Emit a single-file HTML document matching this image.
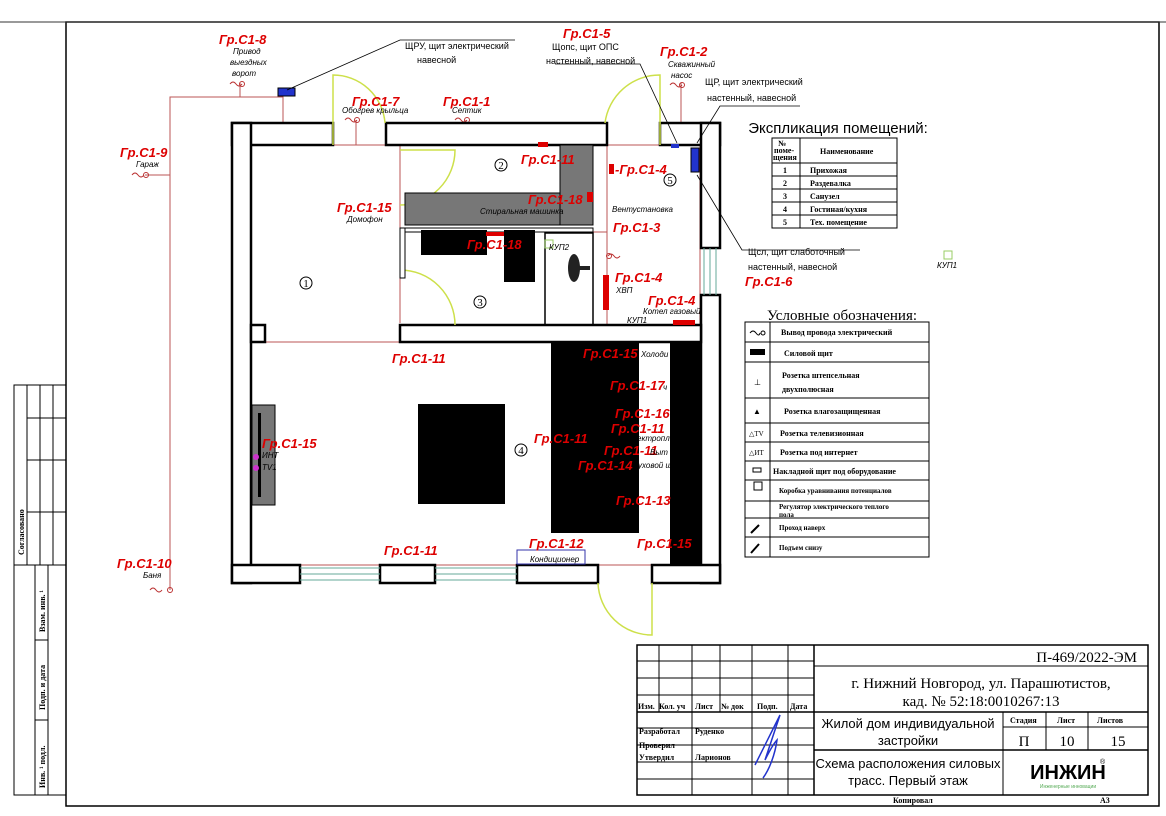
<!DOCTYPE html>
<html><head><meta charset="utf-8"><style>
html,body{margin:0;padding:0;background:#fff}
svg{display:block}
.r{fill:#d00;font-family:"Liberation Sans",sans-serif;font-style:italic;font-weight:bold;font-size:13px}
.s{font-family:"Liberation Sans",sans-serif;font-size:9px;fill:#000}
.si{font-family:"Liberation Sans",sans-serif;font-size:8px;font-style:italic;fill:#000}
.t{font-family:"Liberation Serif",serif;font-size:8px;font-weight:bold;fill:#000}
.w{fill:#fff;stroke:#000;stroke-width:2.5}
.rl{stroke:#b55;stroke-width:1;fill:none}
.d{stroke:#cde04a;stroke-width:1.5;fill:none}
.g{stroke:#000;stroke-width:1;fill:none}
</style></head><body>
<svg width="1166" height="816" viewBox="0 0 1166 816" xmlns="http://www.w3.org/2000/svg">
<rect x="66" y="22" width="1093" height="784" fill="none" stroke="#000" stroke-width="1.5"/>
<line x1="0" y1="22" x2="1166" y2="22" stroke="#333" stroke-width="1"/>
<g class="g">
<rect x="14" y="385" width="52" height="410"/>
<line x1="14" y1="565" x2="66" y2="565"/>
<line x1="27" y1="385" x2="27" y2="565"/><line x1="40" y1="385" x2="40" y2="565"/><line x1="53" y1="385" x2="53" y2="565"/>
<line x1="27" y1="418" x2="66" y2="418"/><line x1="27" y1="460" x2="66" y2="460"/><line x1="27" y1="512" x2="66" y2="512"/>
<line x1="35" y1="565" x2="35" y2="795"/><line x1="48" y1="565" x2="48" y2="795"/>
<line x1="35" y1="640" x2="48" y2="640"/><line x1="35" y1="720" x2="48" y2="720"/>
</g>
<text class="t" transform="translate(24,555) rotate(-90)">Согласовано</text>
<text class="t" transform="translate(45,632) rotate(-90)">Взам. инв. ¹</text>
<text class="t" transform="translate(45,710) rotate(-90)">Подп. и дата</text>
<text class="t" transform="translate(45,788) rotate(-90)">Инв. ¹ подл.</text>

<g class="rl">
<polyline points="170,590 170,97 283,97 283,145 700,145 700,325"/>
<line x1="170" y1="175" x2="145" y2="175"/>
<line x1="240" y1="97" x2="240" y2="83"/>
<line x1="356" y1="145" x2="356" y2="120"/>
<line x1="466" y1="145" x2="466" y2="120"/>
<line x1="681" y1="145" x2="681" y2="83"/>
<line x1="251" y1="342" x2="701" y2="342"/>
<line x1="251" y1="342" x2="251" y2="565"/>
<line x1="251" y1="565" x2="701" y2="565"/>
<line x1="701" y1="342" x2="701" y2="565"/>
<line x1="400" y1="145" x2="400" y2="323"/>
<line x1="607" y1="145" x2="607" y2="325"/>
<line x1="607" y1="325" x2="701" y2="325"/>
<line x1="545" y1="232" x2="607" y2="232"/>
<line x1="598" y1="342" x2="598" y2="450"/>
</g>
<g stroke="#b33" fill="none" stroke-width="1">
<path d="M230,84 q3,-4 6,0 t6,0"/><circle cx="242" cy="84" r="2.5"/>
<path d="M345,120 q3,-4 6,0 t6,0"/><circle cx="357" cy="120" r="2.5"/>
<path d="M455,120 q3,-4 6,0 t6,0"/><circle cx="467" cy="120" r="2.5"/>
<path d="M670,85 q3,-4 6,0 t6,0"/><circle cx="682" cy="85" r="2.5"/>
<path d="M132,175 q3,-4 6,0 t6,0"/><circle cx="146" cy="175" r="2.5"/>
<path d="M150,590 q3,-4 6,0 t6,0"/><circle cx="170" cy="590" r="2.5"/>
<path d="M608,256 q3,-4 6,0 t6,0"/><circle cx="609" cy="256" r="2.5"/>
</g>

<rect class="w" x="232" y="123" width="101" height="22"/>
<rect class="w" x="386" y="123" width="221" height="22"/>
<rect class="w" x="660" y="123" width="60" height="22"/>
<rect class="w" x="232" y="123" width="19" height="460"/>
<rect class="w" x="701" y="123" width="19" height="125"/>
<rect class="w" x="701" y="295" width="19" height="288"/>
<rect class="w" x="400" y="325" width="301" height="17"/>
<rect class="w" x="251" y="325" width="14" height="17"/>
<rect class="w" x="232" y="565" width="68" height="18"/>
<rect class="w" x="380" y="565" width="55" height="18"/>
<rect class="w" x="517" y="565" width="81" height="18"/>
<rect class="w" x="652" y="565" width="68" height="18"/>
<g stroke="#6a9" stroke-width="1">
<line x1="300" y1="568" x2="380" y2="568"/><line x1="300" y1="574" x2="380" y2="574"/><line x1="300" y1="580" x2="380" y2="580"/>
<line x1="435" y1="568" x2="517" y2="568"/><line x1="435" y1="574" x2="517" y2="574"/><line x1="435" y1="580" x2="517" y2="580"/>
<line x1="704" y1="248" x2="704" y2="295"/><line x1="710" y1="248" x2="710" y2="295"/><line x1="716" y1="248" x2="716" y2="295"/>
</g>
<path class="d" d="M333,145 L333,75 A52,52 0 0 1 385,123"/>
<path class="d" d="M660,145 L660,75 A55,55 0 0 0 605,123"/>
<path class="d" d="M400,150 L455,150 A55,55 0 0 1 400,205"/>
<path class="d" d="M400,270 A55,55 0 0 1 455,325"/>
<path class="d" d="M652,583 L652,635 A54,54 0 0 1 598,583"/>

<rect x="405" y="193" width="188" height="32" fill="#777" stroke="#000"/>
<rect x="560" y="145" width="33" height="80" fill="#777" stroke="#000"/>
<rect x="400" y="228" width="5" height="50" fill="#fff" stroke="#000"/>
<rect x="405" y="228" width="188" height="4" fill="#fff" stroke="#000"/>
<rect x="545" y="233" width="48" height="92" fill="none" stroke="#000" stroke-width="1.5"/>
<rect x="421" y="230" width="66" height="25" fill="#000"/>
<rect x="504" y="230" width="31" height="52" fill="#000"/>
<ellipse cx="574" cy="268" rx="6" ry="14" fill="#222"/>
<rect x="574" y="266" width="16" height="4" fill="#222"/>
<rect x="418" y="404" width="87" height="100" fill="#000"/>
<rect x="551" y="342" width="88" height="191" fill="#000"/>
<rect x="670" y="342" width="31" height="223" fill="#000"/>
<rect x="252" y="405" width="23" height="100" fill="#777" stroke="#000"/>
<rect x="258" y="413" width="3" height="84" fill="#000"/>
<circle cx="256" cy="457" r="3" fill="#c3c"/><circle cx="256" cy="468" r="3" fill="#c3c"/>
<rect x="517" y="550" width="68" height="14" fill="none" stroke="#33a"/>
<rect x="944" y="251" width="8" height="8" fill="none" stroke="#9c6"/>
<rect x="545" y="240" width="8" height="8" fill="none" stroke="#9c6"/>
<rect x="278" y="88" width="17" height="8" fill="#23c" stroke="#000"/>
<rect x="691" y="148" width="8" height="24" fill="#23c" stroke="#000"/>
<rect x="671" y="144" width="8" height="4" fill="#23c"/>
<g fill="#d00">
<rect x="609" y="164" width="5" height="10"/><rect x="587" y="192" width="6" height="10"/>
<rect x="486" y="232" width="18" height="4"/><rect x="603" y="275" width="6" height="35"/>
<rect x="673" y="320" width="22" height="5"/><rect x="538" y="142" width="10" height="5"/>
</g>
<g stroke="#000" stroke-width="0.8" fill="none">
<polyline points="287,90 400,40 515,40"/>
<polyline points="555,64 640,64 677,143"/>
<polyline points="697,143 720,106 800,106"/>
<polyline points="697,175 742,250 860,250"/>
</g>
<g font-family="Liberation Serif,serif" font-size="11" text-anchor="middle">
<circle cx="306" cy="283" r="6" fill="none" stroke="#000"/><text x="306" y="287">1</text>
<circle cx="501" cy="165" r="6" fill="none" stroke="#000"/><text x="501" y="169">2</text>
<circle cx="480" cy="302" r="6" fill="none" stroke="#000"/><text x="480" y="306">3</text>
<circle cx="521" cy="450" r="6" fill="none" stroke="#000"/><text x="521" y="454">4</text>
<circle cx="670" cy="180" r="6" fill="none" stroke="#000"/><text x="670" y="184">5</text>
</g>

<text class="r" x="219" y="44">Гр.С1-8</text>
<text class="r" x="563" y="38">Гр.С1-5</text>
<text class="r" x="660" y="56">Гр.С1-2</text>
<text class="r" x="352" y="106">Гр.С1-7</text>
<text class="r" x="443" y="106">Гр.С1-1</text>
<text class="r" x="120" y="157">Гр.С1-9</text>
<text class="r" x="521" y="164">Гр.С1-11</text>
<text class="r" x="615" y="174">-Гр.С1-4</text>
<text class="r" x="528" y="204">Гр.С1-18</text>
<text class="r" x="337" y="212">Гр.С1-15</text>
<text class="r" x="613" y="232">Гр.С1-3</text>
<text class="r" x="467" y="249">Гр.С1-18</text>
<text class="r" x="615" y="282">Гр.С1-4</text>
<text class="r" x="648" y="305">Гр.С1-4</text>
<text class="r" x="745" y="286">Гр.С1-6</text>
<text class="r" x="392" y="363">Гр.С1-11</text>
<text class="r" x="583" y="358">Гр.С1-15</text>
<text class="r" x="610" y="390">Гр.С1-17</text>
<text class="r" x="615" y="418">Гр.С1-16</text>
<text class="r" x="611" y="433">Гр.С1-11</text>
<text class="r" x="534" y="443">Гр.С1-11</text>
<text class="r" x="604" y="455">Гр.С1-11</text>
<text class="r" x="578" y="470">Гр.С1-14</text>
<text class="r" x="262" y="448">Гр.С1-15</text>
<text class="r" x="616" y="505">Гр.С1-13</text>
<text class="r" x="384" y="555">Гр.С1-11</text>
<text class="r" x="529" y="548">Гр.С1-12</text>
<text class="r" x="637" y="548">Гр.С1-15</text>
<text class="r" x="117" y="568">Гр.С1-10</text>
<text class="si" x="233" y="54">Привод</text><text class="si" x="230" y="65">выездных</text><text class="si" x="232" y="76">ворот</text>
<text class="s" x="405" y="49">ЩРУ, щит электрический</text><text class="s" x="417" y="63">навесной</text>
<text class="s" x="552" y="50">Щопс, щит ОПС</text><text class="s" x="546" y="64">настенный, навесной</text>
<text class="si" x="668" y="67">Скважинный</text><text class="si" x="671" y="78">насос</text>
<text class="s" x="705" y="85">ЩР, щит электрический</text><text class="s" x="707" y="101">настенный, навесной</text>
<text class="si" x="342" y="113">Обогрев крыльца</text><text class="si" x="452" y="113">Септик</text>
<text class="si" x="136" y="167">Гараж</text>
<text class="si" x="480" y="214">Стиральная машинка</text>
<text class="si" x="347" y="222">Домофон</text>
<text class="si" x="612" y="212">Вентустановка</text>
<text class="si" x="549" y="250">КУП2</text>
<text class="si" x="616" y="293">ХВП</text>
<text class="si" x="643" y="314">Котел газовый</text>
<text class="si" x="627" y="323">КУП1</text>
<text class="s" x="748" y="255">Щсл, щит слаботочный</text><text class="s" x="748" y="270">настенный, навесной</text>
<text class="si" x="937" y="268">КУП1</text>
<text class="si" x="641" y="357">Холоди</text>
<text class="si" x="663" y="390">ч</text>
<text class="si" x="637" y="441">ектропл</text><text class="si" x="650" y="455">Выт</text><text class="si" x="638" y="468">уховой ш</text>
<text class="si" x="262" y="458">ИНТ</text><text class="si" x="262" y="470">TV1</text>
<text class="si" x="530" y="562">Кондиционер</text>
<text class="si" x="143" y="578">Баня</text>

<text x="838" y="133" text-anchor="middle" font-family="Liberation Sans,sans-serif" font-size="15">Экспликация помещений:</text>
<g class="g">
<rect x="772" y="138" width="125" height="90"/>
<line x1="800" y1="138" x2="800" y2="228"/>
<line x1="772" y1="163" x2="897" y2="163"/><line x1="772" y1="176" x2="897" y2="176"/><line x1="772" y1="189" x2="897" y2="189"/><line x1="772" y1="202" x2="897" y2="202"/><line x1="772" y1="215" x2="897" y2="215"/>
</g>
<text class="t" x="778" y="146">№</text><text class="t" x="774" y="153" font-size="7">поме-</text><text class="t" x="773" y="160" font-size="7">щения</text>
<text class="t" x="820" y="154">Наименование</text>
<g class="t"><text x="783" y="173">1</text><text x="783" y="186">2</text><text x="783" y="199">3</text><text x="783" y="212">4</text><text x="783" y="225">5</text>
<text x="810" y="173">Прихожая</text><text x="810" y="186">Раздевалка</text><text x="810" y="199">Санузел</text><text x="810" y="212">Гостиная/кухня</text><text x="810" y="225">Тех. помещение</text></g>

<text x="842" y="320" text-anchor="middle" font-family="Liberation Serif,serif" font-size="15">Условные обозначения:</text>
<g class="g">
<rect x="745" y="322" width="184" height="235"/>
<line x1="770" y1="322" x2="770" y2="557"/>
<line x1="745" y1="342" x2="929" y2="342"/><line x1="745" y1="362" x2="929" y2="362"/><line x1="745" y1="398" x2="929" y2="398"/><line x1="745" y1="423" x2="929" y2="423"/><line x1="745" y1="442" x2="929" y2="442"/><line x1="745" y1="461" x2="929" y2="461"/><line x1="745" y1="480" x2="929" y2="480"/><line x1="745" y1="501" x2="929" y2="501"/><line x1="745" y1="518" x2="929" y2="518"/><line x1="745" y1="537" x2="929" y2="537"/>
</g>
<g class="t">
<text x="781" y="335">Вывод провода электрический</text>
<text x="784" y="356">Силовой щит</text>
<text x="782" y="378">Розетка штепсельная</text><text x="782" y="392">двухполюсная</text>
<text x="784" y="414">Розетка влагозащищенная</text>
<text x="780" y="436">Розетка телевизионная</text>
<text x="780" y="455">Розетка под интернет</text>
<text x="773" y="474">Накладной щит под оборудование</text>
<text x="779" y="493" font-size="7">Коробка уравнивания потенциалов</text>
<text x="779" y="509" font-size="7">Регулятор электрического теплого</text><text x="779" y="517" font-size="7">пола</text>
<text x="779" y="530" font-size="7">Проход наверх</text>
<text x="779" y="550" font-size="7">Подъем снизу</text>
</g>
<path d="M750,333 q3,-4 6,0 t4,0" stroke="#000" fill="none"/><circle cx="763" cy="333" r="2" fill="none" stroke="#000"/>
<rect x="750" y="349" width="15" height="6" fill="#000"/>
<text x="754" y="385" font-size="8">⊥</text><text x="753" y="414" font-size="8">▲</text>
<text x="749" y="436" font-size="7">△TV</text><text x="749" y="455" font-size="7">△ИТ</text>
<rect x="753" y="468" width="8" height="4" fill="none" stroke="#000"/>
<rect x="754" y="482" width="8" height="8" fill="none" stroke="#000"/>
<line x1="751" y1="533" x2="759" y2="525" stroke="#000" stroke-width="2"/>
<line x1="751" y1="553" x2="759" y2="544" stroke="#000" stroke-width="2"/>

<g class="g">
<rect x="637" y="645" width="511" height="150" stroke-width="1.5"/>
<line x1="814" y1="645" x2="814" y2="795" stroke-width="1.5"/>
<line x1="659" y1="645" x2="659" y2="712"/><line x1="692" y1="645" x2="692" y2="795"/><line x1="720" y1="645" x2="720" y2="712"/><line x1="752" y1="645" x2="752" y2="795"/><line x1="788" y1="645" x2="788" y2="795"/>
<line x1="637" y1="661" x2="814" y2="661"/><line x1="637" y1="678" x2="814" y2="678"/><line x1="637" y1="695" x2="814" y2="695"/><line x1="637" y1="712" x2="814" y2="712" stroke-width="1.5"/>
<line x1="637" y1="728" x2="814" y2="728"/><line x1="637" y1="745" x2="814" y2="745"/><line x1="637" y1="762" x2="814" y2="762"/><line x1="637" y1="779" x2="814" y2="779"/>
<line x1="814" y1="666" x2="1148" y2="666"/><line x1="814" y1="712" x2="1148" y2="712" stroke-width="1.5"/><line x1="814" y1="750" x2="1148" y2="750" stroke-width="1.5"/>
<line x1="1003" y1="712" x2="1003" y2="795"/><line x1="1046" y1="712" x2="1046" y2="750"/><line x1="1088" y1="712" x2="1088" y2="750"/>
<line x1="1003" y1="727" x2="1148" y2="727"/>
<line x1="66" y1="806" x2="1158" y2="806"/>
</g>
<g class="t" font-size="7">
<text x="638" y="709">Изм.</text><text x="659" y="709">Кол. уч</text><text x="695" y="709">Лист</text><text x="721" y="709">№ док</text><text x="757" y="709">Подп.</text><text x="790" y="709">Дата</text>
<text x="639" y="734">Разработал</text><text x="695" y="734">Руденко</text>
<text x="639" y="748">Проверил</text>
<text x="639" y="760">Утвердил</text><text x="695" y="760">Ларионов</text>
<text x="1010" y="723">Стадия</text><text x="1057" y="723">Лист</text><text x="1097" y="723">Листов</text>
<text x="893" y="803">Копировал</text><text x="1100" y="803">А3</text>
</g>
<path d="M755,765 c10,-20 20,-40 25,-50 c-5,15 -10,30 -15,45 c5,-10 10,-18 12,-20 c-2,15 -8,30 -14,38" stroke="#23c" fill="none" stroke-width="1.5"/>
<g font-family="Liberation Serif,serif" fill="#000">
<text x="1137" y="662" font-size="15" text-anchor="end">П-469/2022-ЭМ</text>
<text x="981" y="688" font-size="15" text-anchor="middle">г. Нижний Новгород, ул. Парашютистов,</text>
<text x="981" y="706" font-size="15" text-anchor="middle">кад. № 52:18:0010267:13</text>
<text x="1024" y="746" font-size="15" text-anchor="middle">П</text>
<text x="1067" y="746" font-size="15" text-anchor="middle">10</text>
<text x="1118" y="746" font-size="15" text-anchor="middle">15</text>
</g>
<g font-family="Liberation Sans,sans-serif" fill="#000" font-size="13" text-anchor="middle">
<text x="908" y="728">Жилой дом индивидуальной</text>
<text x="908" y="745">застройки</text>
<text x="908" y="768">Схема расположения силовых</text>
<text x="908" y="785">трасс. Первый этаж</text>
</g>
<text x="1068" y="779" font-family="Liberation Sans,sans-serif" font-weight="bold" font-size="20" text-anchor="middle">ИНЖИН</text>
<text x="1068" y="788" font-family="Liberation Sans,sans-serif" font-size="5" fill="#5a5" text-anchor="middle">Инженерные инновации</text>
<text x="1100" y="764" font-size="7" font-family="Liberation Sans,sans-serif">®</text>
</svg>
</body></html>
